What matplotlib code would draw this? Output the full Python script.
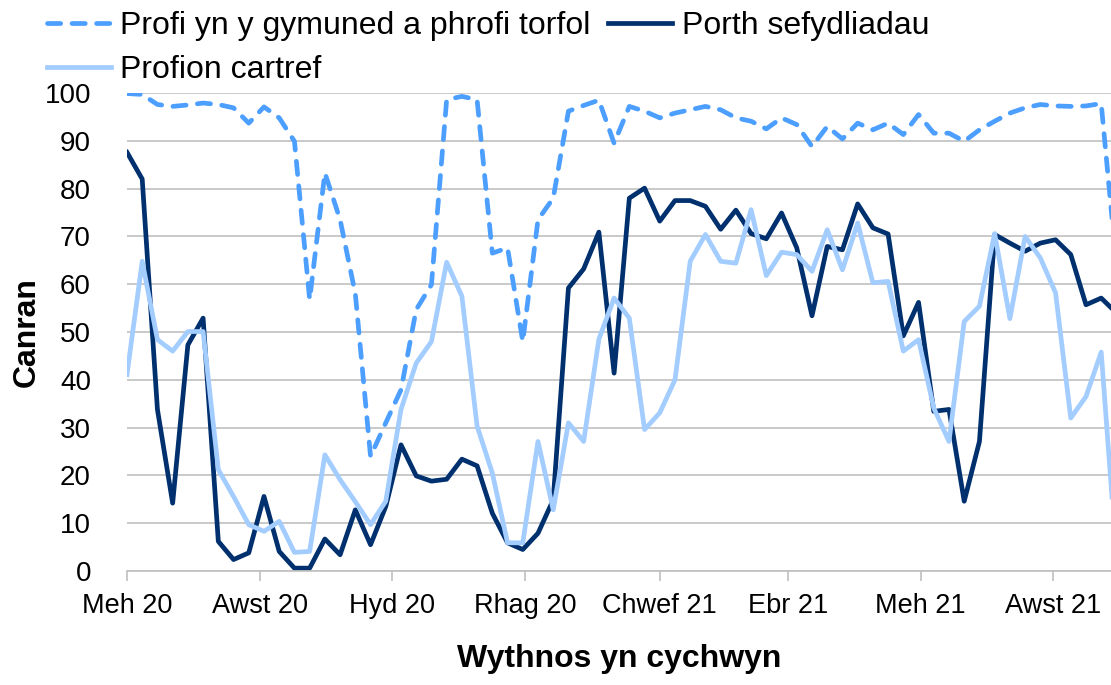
import numpy as np
import pandas as pd
import matplotlib
matplotlib.use("Agg")
import matplotlib.pyplot as plt
import matplotlib.dates as mdates

plt.rcParams['font.family'] = ['Liberation Sans', 'DejaVu Sans']

# weekly data, week starting
weeks = pd.date_range('2020-06-01', periods=66, freq='7D')

gymuned = [99.9, 99.7, 97.6, 97.2, 97.5, 97.9, 97.6, 96.9, 93.7, 97.1,
           94.8, 89.9, 56.8, 83.3, 73.5, 58.0, 24.0, 31.0, 37.9, 54.7,
           59.9, 98.6, 99.3, 98.6, 66.5, 67.6, 48.0, 73.5, 78.0, 96.2,
           97.4, 98.5, 89.5, 97.2, 96.2, 94.8, 95.8, 96.5, 97.2, 96.5,
           94.8, 94.1, 92.5, 94.8, 93.4, 88.8, 93.0, 90.4, 93.7, 92.3,
           93.7, 91.3, 95.5, 91.6, 91.6, 89.9, 92.3, 94.1, 95.8, 96.9,
           97.6, 97.3, 97.2, 97.3, 97.8, 64.0]

porth = [87.6, 82.0, 33.8, 14.2, 47.3, 52.9, 6.2, 2.4, 3.8, 15.6,
         4.1, 0.6, 0.6, 6.7, 3.4, 12.8, 5.5, 13.5, 26.4, 19.9,
         18.8, 19.2, 23.4, 22.0, 12.1, 5.9, 4.5, 7.9, 14.9, 59.2,
         63.2, 70.9, 41.4, 78.0, 80.1, 73.2, 77.5, 77.5, 76.3, 71.5,
         75.5, 70.6, 69.5, 74.9, 67.6, 53.4, 67.9, 67.2, 76.8, 71.8,
         70.5, 49.2, 56.2, 33.4, 33.8, 14.6, 27.1, 70.4, 68.6, 66.9,
         68.6, 69.3, 66.2, 55.7, 57.1, 54.0]

cartref = [41.1, 64.8, 48.4, 46.0, 50.1, 50.1, 21.2, 15.6, 9.7, 8.3,
           10.4, 3.9, 4.1, 24.3, 19.1, 14.5, 9.7, 14.6, 33.8, 43.5,
           48.0, 64.6, 57.5, 30.3, 20.5, 5.9, 5.9, 27.1, 12.8, 31.0,
           27.1, 48.5, 57.1, 52.9, 29.6, 33.1, 40.0, 64.8, 70.4, 64.8,
           64.4, 75.6, 61.8, 66.7, 66.2, 62.7, 71.4, 63.0, 72.8, 60.3,
           60.6, 46.0, 48.4, 34.1, 27.1, 52.2, 55.4, 70.6, 52.8, 70.0,
           65.5, 58.2, 32.0, 36.5, 45.8, 3.0]

tick_dates = pd.to_datetime(['2020-06-01', '2020-08-01', '2020-10-01', '2020-12-01',
                             '2021-02-01', '2021-04-01', '2021-06-01', '2021-08-01'])
tick_labels = ['Meh 20', 'Awst 20', 'Hyd 20', 'Rhag 20',
               'Chwef 21', 'Ebr 21', 'Meh 21', 'Awst 21']

fig = plt.figure(figsize=(11.11, 6.85), dpi=100)
ax = fig.add_axes([0.1143, 0.1664, 0.8857, 0.6978])

l1, = ax.plot(weeks, gymuned, color='#4D9FFF', lw=3.4, linestyle=(0, (2.8, 2.4)),
              dash_capstyle='round', label='Profi yn y gymuned a phrofi torfol')
l2, = ax.plot(weeks, porth, color='#00306E', lw=3.4, label='Porth sefydliadau')
l3, = ax.plot(weeks, cartref, color='#A3CCFF', lw=3.4, label='Profion cartref')

ax.set_ylim(0, 100)
ax.set_yticks(np.arange(0, 101, 10))
start = mdates.date2num(pd.Timestamp('2020-06-01'))
ax.set_xlim(start, start + 452.5)
ax.set_xticks(tick_dates)
ax.set_xticklabels(tick_labels)

ax.grid(axis='y', color='#C0C0C0', lw=1.2)
ax.set_axisbelow(True)
for s in ['left', 'right', 'top']:
    ax.spines[s].set_visible(False)
ax.spines['bottom'].set_color('#C0C0C0')
ax.spines['bottom'].set_linewidth(1.2)
ax.tick_params(axis='y', length=0, pad=26, labelsize=20, colors='black')
ax.tick_params(axis='x', length=7, width=1.2, color='#C0C0C0', pad=9,
               labelsize=19.5)

ax.set_ylabel('Canran', fontsize=23, fontweight='bold', labelpad=2)
ax.set_xlabel('Wythnos yn cychwyn', fontsize=23, fontweight='bold', labelpad=18)

fig.legend(handles=[l1, l3, l2], ncol=2, loc='upper left',
           bbox_to_anchor=(0.025, 1.012), frameon=False, fontsize=23,
           handlelength=2.0, handletextpad=0.3, columnspacing=0.55,
           labelspacing=0.45, borderpad=0.1)

fig.savefig('out.png', dpi=100)
